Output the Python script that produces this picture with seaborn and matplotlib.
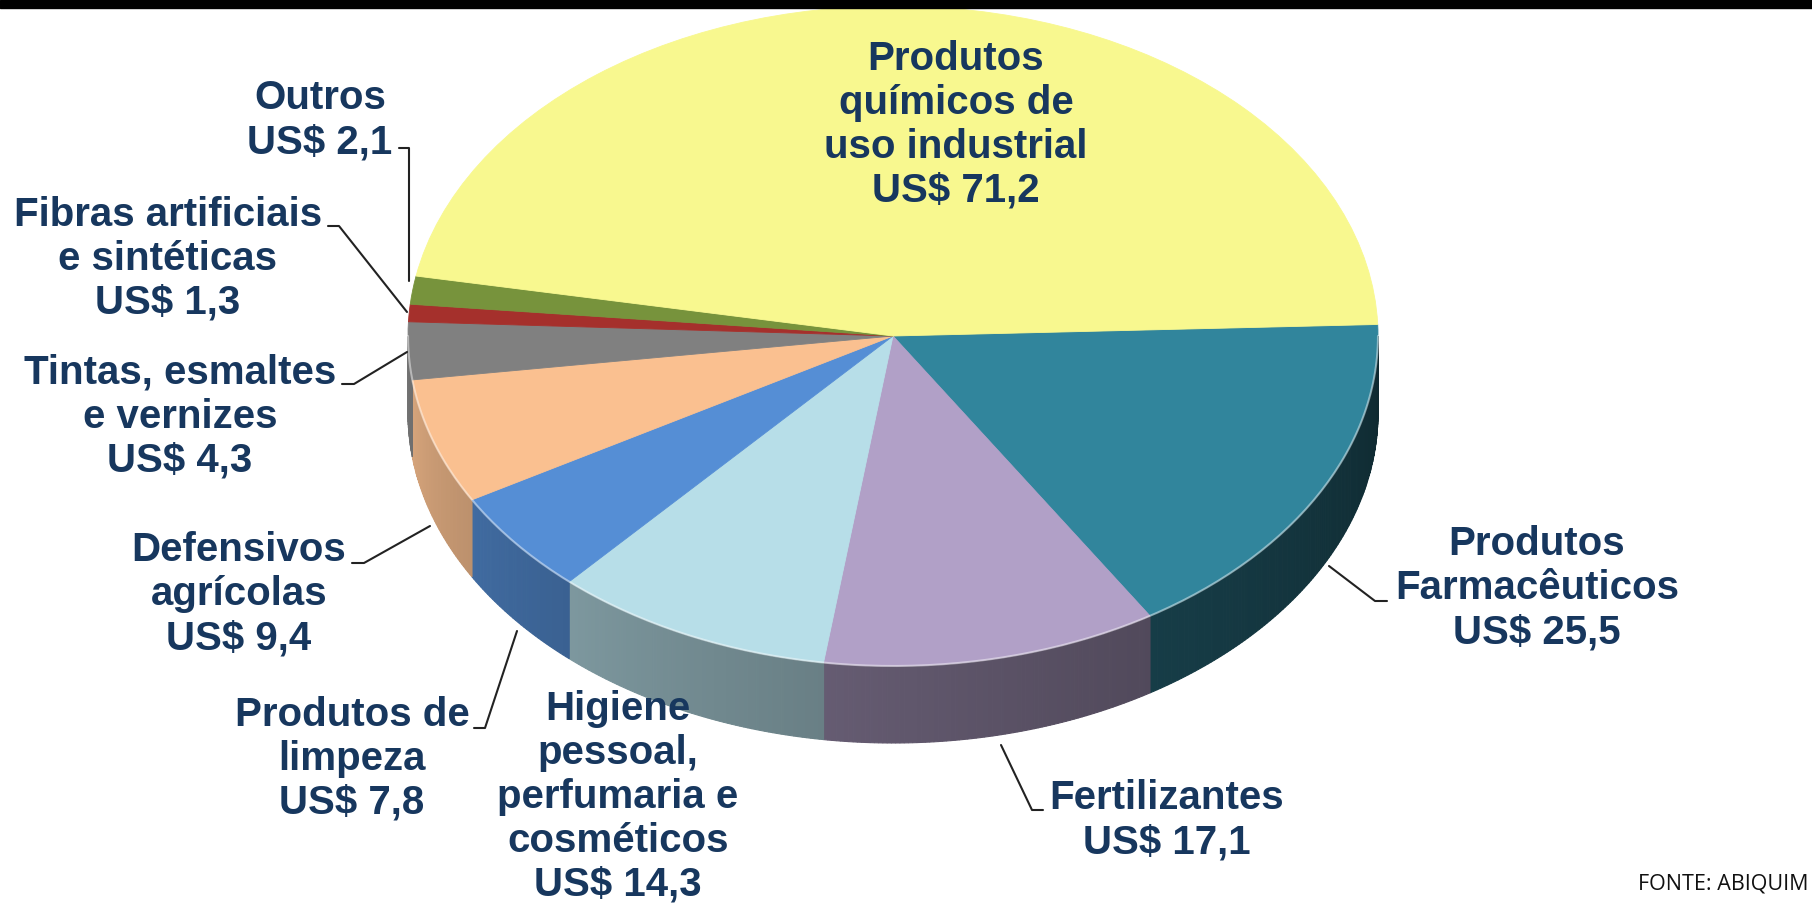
import numpy as np
import matplotlib.pyplot as plt
import matplotlib.colors as mcolors
from matplotlib.patches import Polygon, Rectangle
import seaborn as sns

# %%
# dados (US$ bilhões) - fatias no sentido horário a partir de leste
categorias = ["Produtos Farmacêuticos", "Fertilizantes",
              "Higiene pessoal, perfumaria e cosméticos", "Produtos de limpeza",
              "Defensivos agrícolas", "Tintas, esmaltes e vernizes",
              "Fibras artificiais e sintéticas", "Outros",
              "Produtos químicos de uso industrial"]
valores = [25.5, 17.1, 14.3, 7.8, 9.4, 4.3, 1.3, 2.1, 71.2]
rotulos = ["Produtos\nFarmacêuticos\nUS$ 25,5",
           "Fertilizantes\nUS$ 17,1",
           "Higiene\npessoal,\nperfumaria e\ncosméticos\nUS$ 14,3",
           "Produtos de\nlimpeza\nUS$ 7,8",
           "Defensivos\nagrícolas\nUS$ 9,4",
           "Tintas, esmaltes\ne vernizes\nUS$ 4,3",
           "Fibras artificiais\ne sintéticas\nUS$ 1,3",
           "Outros\nUS$ 2,1",
           "Produtos\nquímicos de\nuso industrial\nUS$ 71,2"]
cores = ["#31859C", "#B1A0C7", "#B7DEE8", "#558ED5", "#FAC090",
         "#808080", "#A5302C", "#77933C", "#F8F88F"]

# %%
W, H = 1812, 910
CX, CY, RX, RY, DEPTH = 893, 336, 485, 330, 77

def px(x, y):
    return (x - CX) / RX, (CY - y) / RY

sns.set_style("white")
plt.rcParams['font.family'] = ['Liberation Sans', 'DejaVu Sans']
fig = plt.figure(figsize=(W / 100, H / 100), dpi=100)
ax = fig.add_axes([0, 0, 1, 1])

wedges, _ = ax.pie(valores, colors=cores, startangle=2, counterclock=False,
                   radius=1, center=(0, 0), frame=False,
                   wedgeprops=dict(linewidth=0.6, zorder=3))
for w, c in zip(wedges, cores):
    w.set_edgecolor(c)
ax.set_aspect('auto')
x0, y0 = px(0, H)
x1, y1 = px(W, 0)
ax.set_xlim(x0, x1)
ax.set_ylim(y0, y1)
ax.axis('off')

# parede lateral (efeito 3D)
d = DEPTH / RY
def shade(c, ang):
    u = ((ang % 360) - 180) / 180
    f = 0.93 - 0.62 * max(u, 0) ** 0.7
    r, g, b = mcolors.to_rgb(c)
    return (r * f, g * f, b * f)

for w, c in zip(wedges, cores):
    ts = np.linspace(w.theta1, w.theta2, max(int(w.theta2 - w.theta1) * 2, 2) + 1)
    for a, b in zip(ts[:-1], ts[1:]):
        m = np.radians((a + b) / 2)
        if np.sin(m) >= 0:
            continue
        ra, rb = np.radians(a), np.radians(b)
        quad = [(np.cos(ra), np.sin(ra)), (np.cos(rb), np.sin(rb)),
                (np.cos(rb), np.sin(rb) - d), (np.cos(ra), np.sin(ra) - d)]
        col = shade(c, (a + b) / 2)
        ax.add_patch(Polygon(quad, closed=True, facecolor=col, edgecolor=col,
                             linewidth=0.8, zorder=2))

t = np.radians(np.linspace(180, 360, 200))
ax.plot(np.cos(t), np.sin(t), color='white', alpha=0.45, lw=1.5, zorder=4)

# %%
# rótulos
pos = [(1537, 588), (1167, 820), (618, 797), (352, 759), (239, 594),
       (180, 417), (168, 259), (320, 120), (956, 125)]
for txt, (x, y) in zip(rotulos, pos):
    ax.text(*px(x, y), txt, ha='center', va='center', fontsize=29,
            fontweight='bold', color='#17375E', linespacing=1.2, zorder=6)

guias = [[(1387, 601), (1375, 601), (1329, 566)],
         [(1043, 810), (1032, 810), (1001, 745)],
         [(474, 728), (485, 728), (517, 631)],
         [(352, 563), (364, 563), (430, 526)],
         [(342, 384), (354, 384), (407, 352)],
         [(328, 226), (339, 226), (407, 312)],
         [(399, 148), (409, 148), (409, 281)]]
for g in guias:
    xs, ys = zip(*[px(*p) for p in g])
    ax.plot(xs, ys, color='#222222', lw=1.5, zorder=5)

fig.text(0.998, 1 - 884 / H, "FONTE: ABIQUIM", ha='right', va='center',
         fontsize=15.5, family='Open Sans', color='#111111')
fig.patches.append(Rectangle((0, 1 - 8 / H), 1, 8 / H, transform=fig.transFigure,
                             color='black', zorder=10))

plt.savefig("out.png", dpi=100)
